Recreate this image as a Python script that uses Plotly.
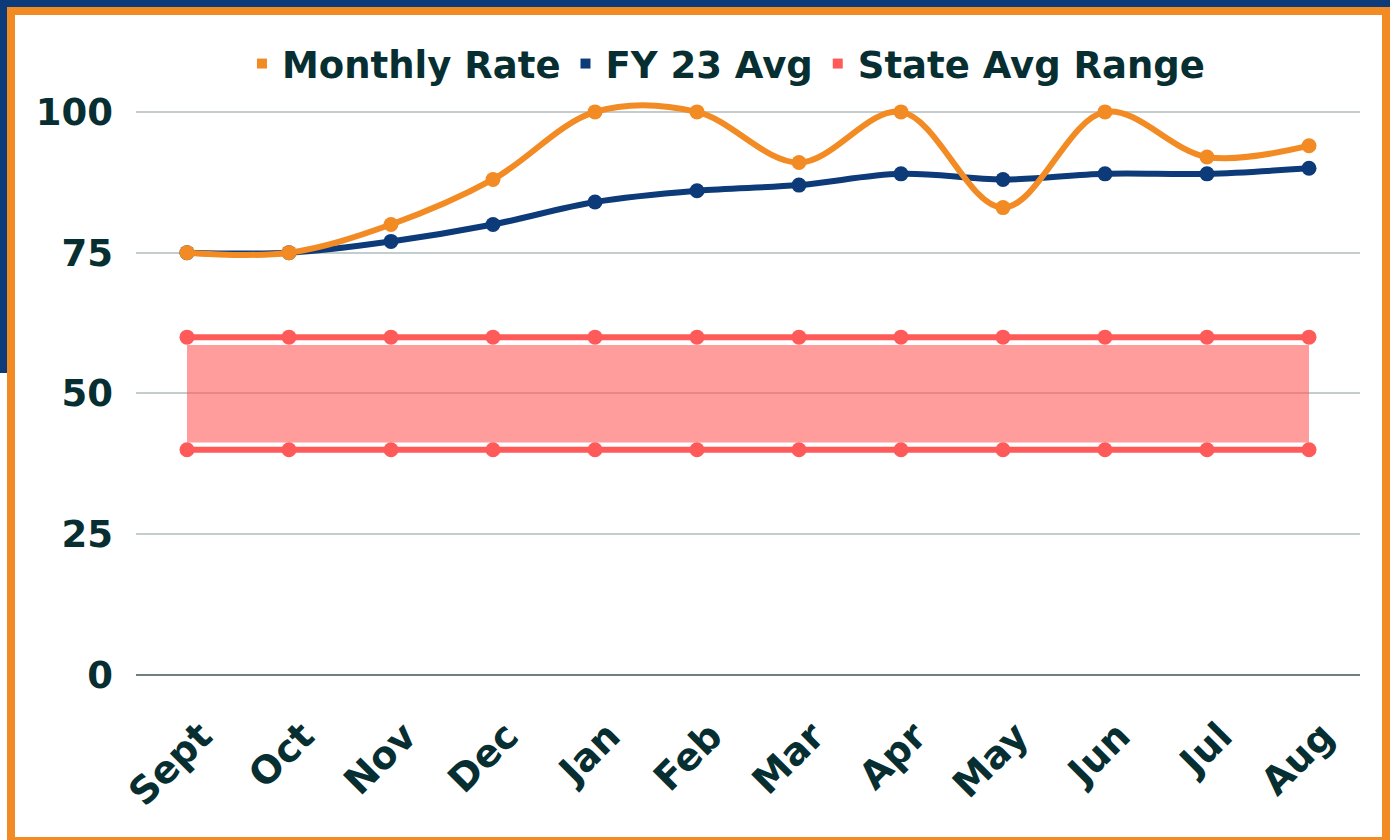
import plotly.graph_objects as go

months = ["Sept", "Oct", "Nov", "Dec", "Jan", "Feb", "Mar", "Apr", "May", "Jun", "Jul", "Aug"]
monthly_rate = [75, 75, 80, 88, 100, 100, 91, 100, 83, 100, 92, 94]
fy23_avg = [75, 75, 77, 80, 84, 86, 87, 89, 88, 89, 89, 90]
state_high = [60] * 12
state_low = [40] * 12
band_high = [58.6] * 12
band_low = [41.3] * 12
y_ticks = [0, 25, 50, 75, 100]

ORANGE = "#F38B24"
NAVY = "#0D3A78"
RED = "#FF5A5A"
TEXT = "#072E31"
FONT = "DejaVu Sans"

fig = go.Figure()

fig.add_trace(go.Scatter(x=months, y=band_low, mode="lines", line=dict(width=0, color="rgba(0,0,0,0)"),
                         showlegend=False, hoverinfo="skip"))
fig.add_trace(go.Scatter(x=months, y=band_high, mode="lines", line=dict(width=0, color="rgba(0,0,0,0)"),
                         fill="tonexty", fillcolor="rgba(255,90,90,0.6)", showlegend=False, hoverinfo="skip"))

for ys in (state_high, state_low):
    fig.add_trace(go.Scatter(x=months, y=ys, mode="lines+markers",
                             line=dict(color=RED, width=6), marker=dict(color=RED, size=15),
                             showlegend=False, cliponaxis=False))

fig.add_trace(go.Scatter(x=months, y=fy23_avg, mode="lines+markers",
                         line=dict(color=NAVY, width=6, shape="spline", smoothing=1.0),
                         marker=dict(color=NAVY, size=15), showlegend=False, cliponaxis=False))
fig.add_trace(go.Scatter(x=months, y=monthly_rate, mode="lines+markers",
                         line=dict(color=ORANGE, width=6, shape="spline", smoothing=1.0),
                         marker=dict(color=ORANGE, size=15), showlegend=False, cliponaxis=False))

for name, col in (("Monthly Rate", ORANGE), ("FY 23 Avg", NAVY), ("State Avg Range", RED)):
    fig.add_trace(go.Scatter(x=[None], y=[None], mode="markers", name=name,
                             marker=dict(color=col, size=10, symbol="square")))

W, H = 1390, 840
YMAX = 103
L, R, B = 136, 30, 165
T = int(round(H - B - (H - B - 112) * YMAX / 100))
pw, ph = W - L - R, H - T - B

def px(x):
    return (x - L) / pw

def py(y):
    return (H - B - y) / ph

shapes = [
    dict(type="rect", xref="paper", yref="paper", x0=px(0), x1=px(1395), y0=py(-5), y1=py(7),
         fillcolor=NAVY, line=dict(width=0), layer="below"),
    dict(type="rect", xref="paper", yref="paper", x0=px(-5), x1=px(7), y0=py(-5), y1=py(373),
         fillcolor=NAVY, line=dict(width=0), layer="below"),
    dict(type="rect", xref="paper", yref="paper", x0=px(11), x1=px(1386), y0=py(11), y1=py(841),
         fillcolor="rgba(0,0,0,0)", line=dict(width=8, color=ORANGE), layer="below"),
]

fig.update_layout(
    width=W, height=H,
    margin=dict(l=L, r=R, t=T, b=B),
    paper_bgcolor="white", plot_bgcolor="white",
    font=dict(family=FONT, color=TEXT, weight="bold"),
    shapes=shapes,
    legend=dict(orientation="h", x=0.482, xanchor="center", y=py(64), yanchor="middle",
                font=dict(size=37, family=FONT, color=TEXT, weight="bold"),
                itemsizing="trace", itemwidth=30, traceorder="normal", bgcolor="rgba(0,0,0,0)"),
    xaxis=dict(type="category", categoryorder="array", categoryarray=months,
               tickangle=-45, tickfont=dict(size=38, family=FONT, color=TEXT, weight="bold"),
               showgrid=False, zeroline=False, showline=False, ticks="", range=[-0.5, 11.5],
               ticklabelstandoff=30, ticklabelshift=14),
    yaxis=dict(range=[0, YMAX], tickvals=y_ticks, tickfont=dict(size=37, family=FONT, color=TEXT, weight="bold"),
               showgrid=True, gridcolor="#C3CDCD", gridwidth=1.5, zeroline=True, zerolinecolor="#6F8082",
               zerolinewidth=1.5, ticks="", ticklabelstandoff=22, fixedrange=True),
    showlegend=True,
)

fig.write_html("out.html", config={"displayModeBar": False},
               post_script="document.body.style.margin='0px';")
